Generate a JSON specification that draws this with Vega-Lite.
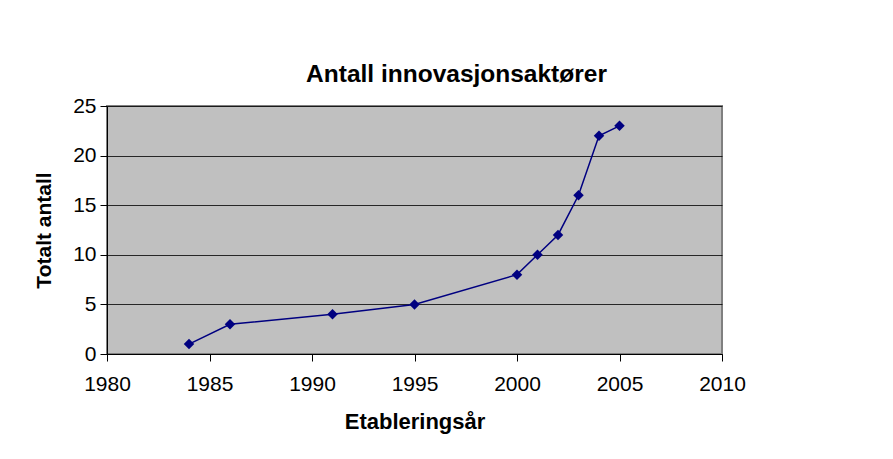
{
  "$schema": "https://vega.github.io/schema/vega-lite/v6.json",
  "autosize": "none",
  "width": 615,
  "height": 248,
  "padding": {"left": 107, "top": 106, "right": 171, "bottom": 105},
  "background": "white",
  "config": {
    "font": "Liberation Sans",
    "view": {"fill": "#C0C0C0", "stroke": "#808080", "strokeWidth": 2}
  },
  "title": {
    "text": "Antall innovasjonsaktører",
    "fontSize": 24.5,
    "fontWeight": "bold",
    "color": "black",
    "anchor": "middle",
    "dx": 42,
    "offset": 8
  },
  "data": {
    "values": [
      {"year": 1984, "count": 1},
      {"year": 1986, "count": 3},
      {"year": 1991, "count": 4},
      {"year": 1995, "count": 5},
      {"year": 2000, "count": 8},
      {"year": 2001, "count": 10},
      {"year": 2002, "count": 12},
      {"year": 2003, "count": 16},
      {"year": 2004, "count": 22},
      {"year": 2005, "count": 23}
    ]
  },
  "encoding": {
    "x": {
      "field": "year",
      "type": "quantitative",
      "scale": {"domain": [1980, 2010], "nice": false, "zero": false},
      "axis": {
        "title": "Etableringsår",
        "values": [1980, 1985, 1990, 1995, 2000, 2005, 2010],
        "format": "d",
        "grid": false,
        "labelFlush": false,
        "domainColor": "black",
        "tickColor": "black",
        "tickSize": 7,
        "labelFontSize": 21,
        "labelColor": "black",
        "labelPadding": 12,
        "titleFontSize": 22,
        "titleFontWeight": "bold",
        "titleColor": "black",
        "titlePadding": 17
      }
    },
    "y": {
      "field": "count",
      "type": "quantitative",
      "scale": {"domain": [0, 25], "nice": false},
      "axis": {
        "title": "Totalt antall",
        "values": [0, 5, 10, 15, 20, 25],
        "grid": true,
        "labelFlush": false,
        "gridColor": "#000000",
        "gridOpacity": 0.8,
        "gridWidth": 1,
        "domainColor": "black",
        "tickColor": "black",
        "tickSize": 7,
        "labelFontSize": 21,
        "labelColor": "black",
        "labelPadding": 4,
        "titleFontSize": 21,
        "titleFontWeight": "bold",
        "titleColor": "black",
        "titlePadding": 18
      }
    }
  },
  "layer": [
    {"mark": {"type": "line", "color": "#000080", "strokeWidth": 1.5}},
    {"mark": {"type": "point", "shape": "diamond", "filled": true, "color": "#000080", "size": 110, "opacity": 1}}
  ]
}
